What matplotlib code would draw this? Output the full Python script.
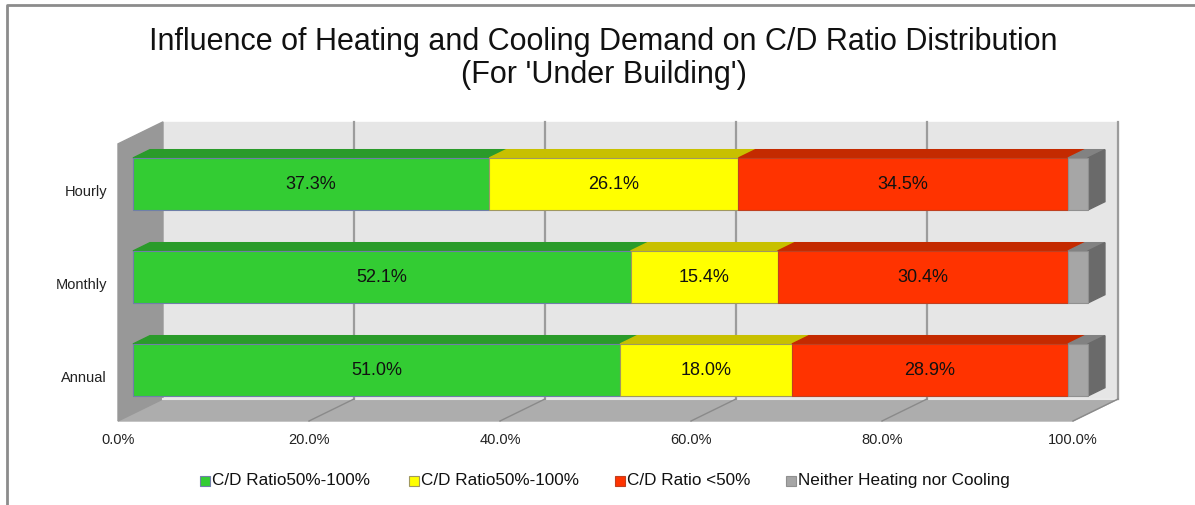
import matplotlib
matplotlib.use('Agg')
import matplotlib.pyplot as plt
import numpy as np

# data
categories = ['Annual', 'Monthly', 'Hourly']
series = ['C/D Ratio50%-100%', 'C/D Ratio50%-100%', 'C/D Ratio <50%', 'Neither Heating nor Cooling']
green_vals = [51.0, 52.1, 37.3]
yellow_vals = [18.0, 15.4, 26.1]
red_vals = [28.9, 30.4, 34.5]
gray_vals = [2.1, 2.1, 2.1]
xticks = [0, 20, 40, 60, 80, 100]

front_cols = ['#33CC33', '#FFFF00', '#FF3300', '#A6A6A6']
top_cols = ['#2A9B2A', '#C8C000', '#C42A00', '#828282']
edge_cols = ['#6F7FA8', '#A09860', '#C04020', '#909090']
side_col = '#6A6A6A'

plt.rcParams['font.family'] = ['Liberation Sans', 'DejaVu Sans']

fig = plt.figure(figsize=(11.95, 5.06), dpi=100)
ax = fig.add_axes([0, 0, 1, 1])
ax.set_xlim(-118 / 9.55, (1195 - 118) / 9.55)
ax.set_ylim((378.3 - 506) / 93, 378.3 / 93)
ax.axis('off')

# oblique depth vector (full depth of the box) in data units
DX, DY = 45 / 9.55, 22 / 93
floor_y = (378.3 - 422) / 93
top_y = 2.51
d0, d1 = 0.333, 0.71
bh = 52 / 93


def quad(xs, ys, **kw):
    ax.fill(xs, ys, **kw)


# back wall
quad([DX, 100 + DX, 100 + DX, DX],
     [floor_y + DY, floor_y + DY, top_y + DY, top_y + DY],
     color='#E6E6E6', zorder=1)
# floor
quad([0, 100, 100 + DX, DX],
     [floor_y, floor_y, floor_y + DY, floor_y + DY],
     color='#ADADAD', zorder=1)
ax.plot([DX, 100 + DX], [floor_y + DY, floor_y + DY], color='#E8E8E8', lw=1.5, zorder=2)
# left wall
quad([0, DX, DX, 0],
     [floor_y, floor_y + DY, top_y + DY, top_y],
     color='#989898', zorder=1)

# gridlines
for t in xticks[1:]:
    ax.plot([t + DX, t + DX], [floor_y + DY, top_y + DY], color='#9C9C9C', lw=1.6, zorder=2)
    ax.plot([t, t + DX], [floor_y, floor_y + DY], color='#8A8A8A', lw=1.0, zorder=2)

# bars
vals = np.array([green_vals, yellow_vals, red_vals, gray_vals])
ypos = np.arange(len(categories))
for j in range(len(categories)):
    left = 0.0
    yb = ypos[j] + d0 * DY - bh / 2
    yt = yb + bh
    for i in range(len(series)):
        w = vals[i, j]
        x0 = left + d0 * DX
        ax.barh(ypos[j] + d0 * DY, w, left=x0, height=bh, color=front_cols[i],
                edgecolor=edge_cols[i], linewidth=0.8, zorder=5)
        ddx, ddy = (d1 - d0) * DX, (d1 - d0) * DY
        quad([x0, x0 + w, x0 + w + ddx, x0 + ddx], [yt, yt, yt + ddy, yt + ddy],
             color=top_cols[i], zorder=4)
        if i == len(series) - 1:
            quad([x0 + w, x0 + w + ddx, x0 + w + ddx, x0 + w],
                 [yb, yb + ddy, yt + ddy, yt], color=side_col, zorder=4)
        else:
            ax.text(x0 + w / 2, ypos[j] + d0 * DY, '%.1f%%' % w, ha='center', va='center',
                    fontsize=13, color='#111111', zorder=6)
        left += w

# axis labels
for j, c in enumerate(categories):
    ax.text(-1.15, ypos[j], c, ha='right', va='center', fontsize=10.5, color='#222222')
for t in xticks:
    ax.text(t, (378.3 - 440) / 93, '%.1f%%' % t, ha='center', va='center', fontsize=10.5,
            color='#222222')

# title
fig.text(0.505, 1 - 42 / 506, 'Influence of Heating and Cooling Demand on C/D Ratio Distribution',
         ha='center', va='center', fontsize=22, color='#111111')
fig.text(0.505, 1 - 75 / 506, "(For 'Under Building')", ha='center', va='center',
         fontsize=22, color='#111111')

# legend
leg_x = [200, 409, 615, 786]
for i, name in enumerate(series):
    fig.patches.append(plt.Rectangle((leg_x[i] / 1195, (506 - 487) / 506), 10 / 1195, 10 / 506,
                                     transform=fig.transFigure, facecolor=front_cols[i],
                                     edgecolor=edge_cols[i], linewidth=0.8))
    fig.text((leg_x[i] + 12) / 1195, 1 - 481 / 506, name, ha='left', va='center',
             fontsize=12.3, color='#111111')

# outer frame
fig.lines.append(plt.Line2D([7 / 1195, 7 / 1195, 1], [0, 1 - 6 / 506, 1 - 6 / 506],
                            transform=fig.transFigure, color='#8C8C8C', lw=2))

fig.savefig('out.png', dpi=100)
